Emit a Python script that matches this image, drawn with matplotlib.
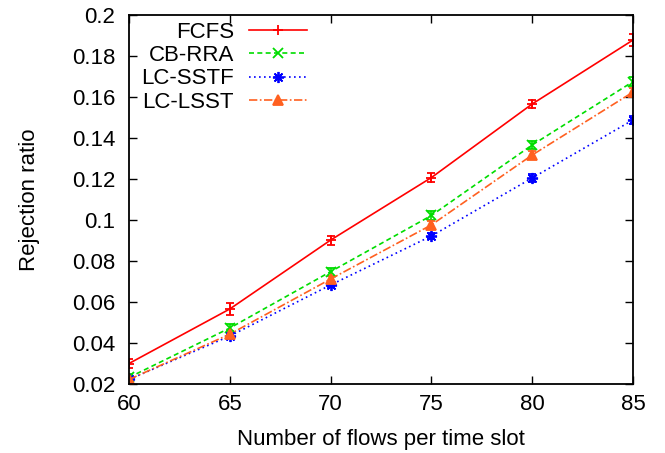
import matplotlib
matplotlib.use("Agg")
import matplotlib.pyplot as plt
from matplotlib.ticker import FuncFormatter, MultipleLocator

plt.rcParams['font.family'] = ['Liberation Sans', 'DejaVu Sans']

flows = [60, 65, 70, 75, 80, 85]
fcfs = [0.0300, 0.0566, 0.0902, 0.1207, 0.1566, 0.1878]
fcfs_err = [0.0022, 0.0028, 0.0022, 0.0020, 0.0018, 0.0030]
cbrra = [0.0232, 0.0473, 0.0748, 0.1022, 0.1366, 0.1675]
cbrra_err = [0.0015, 0.0020, 0.0020, 0.0022, 0.0020, 0.0022]
sstf = [0.0222, 0.0434, 0.0683, 0.0922, 0.1205, 0.1488]
sstf_err = [0.0012, 0.0012, 0.0012, 0.0015, 0.0018, 0.0020]
lsst = [0.0222, 0.0443, 0.0712, 0.0976, 0.1317, 0.1624]
lsst_err = [0.0012, 0.0015, 0.0015, 0.0018, 0.0020, 0.0020]

labels = ["FCFS", "CB-RRA", "LC-SSTF", "LC-LSST"]
series = [fcfs, cbrra, sstf, lsst]
errs = [fcfs_err, cbrra_err, sstf_err, lsst_err]
colors = ["#ff0000", "#00dd00", "#0000ff", "#ff6020"]
styles = ["-", (0, (3, 2)), (0, (1, 2)), (0, (5, 1.5, 1, 1.5))]
markers = ["+", "x", (8, 2, 0), "^"]
msizes = [7, 7, 8, 7]

fig = plt.figure(figsize=(6.65, 4.53), dpi=100)
ax = fig.add_axes([129/665, 1-384/453, (633-129)/665, (384-15)/453])

for y, e, lab, c, ls, m, ms in zip(series, errs, labels, colors, styles, markers, msizes):
    ax.errorbar(flows, y, yerr=e, color=c, linestyle=ls, marker=m, markersize=ms,
                linewidth=1.2, elinewidth=1.2, capsize=3, capthick=1.2,
                markeredgewidth=1.3, label=lab)

ax.set_xlim(60, 85)
ax.set_ylim(0.02, 0.2)
ax.xaxis.set_major_locator(MultipleLocator(5))
ax.yaxis.set_major_locator(MultipleLocator(0.02))
ax.yaxis.set_major_formatter(FuncFormatter(lambda v, p: f"{round(v, 4):g}"))
ax.tick_params(direction='in', length=6, width=1, top=True, right=True, labelsize=16)
ax.tick_params(axis='x', pad=7)
ax.tick_params(axis='y', pad=10)
for s in ax.spines.values():
    s.set_linewidth(1.3)

ax.set_xlabel("Number of flows per time slot", fontsize=16, labelpad=10)
ax.set_ylabel("Rejection ratio", fontsize=16, labelpad=23)

h, l = ax.get_legend_handles_labels()
h = [x[0] for x in h]
leg = ax.legend(h, l, loc='upper right', bbox_to_anchor=(307/665, 1-22/453),
                bbox_transform=fig.transFigure, frameon=False, markerfirst=False,
                fontsize=16, handlelength=2.6, handletextpad=0.68, labelspacing=0.1,
                borderpad=0, borderaxespad=0)

fig.savefig("out.png", dpi=100)
